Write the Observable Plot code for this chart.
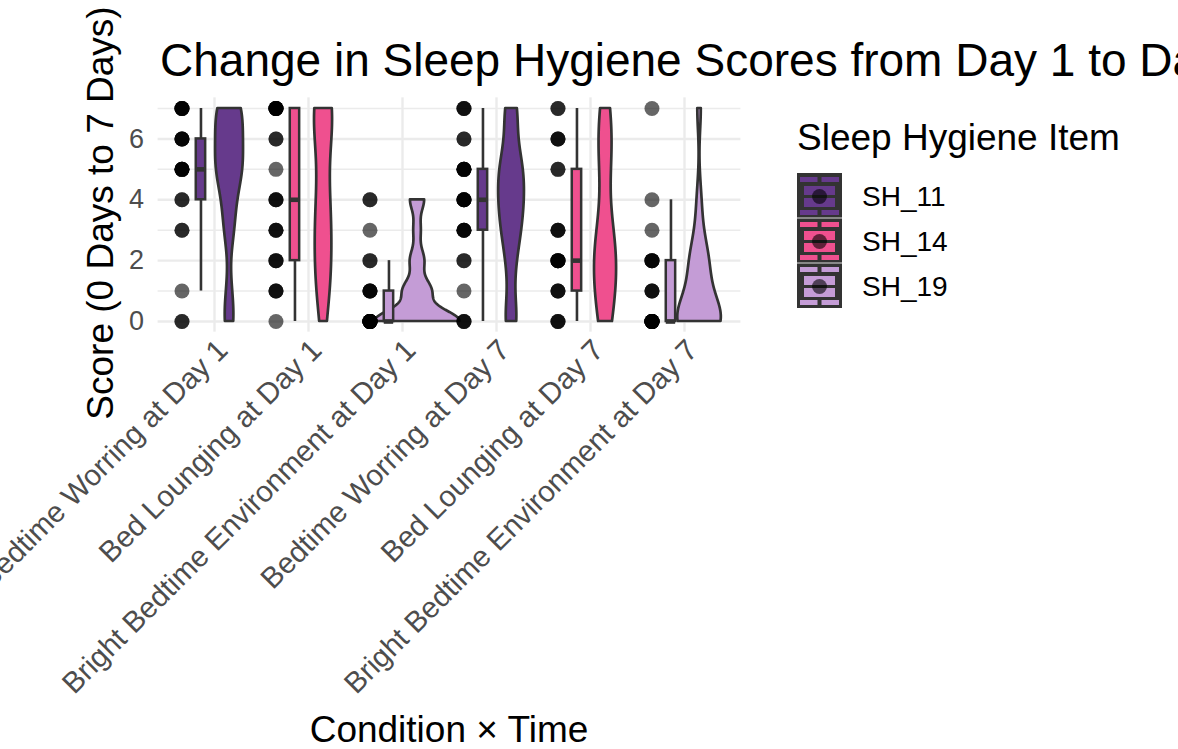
<!DOCTYPE html>
<html>
<head>
<meta charset="utf-8">
<script src="https://cdn.jsdelivr.net/npm/d3@7"></script>
<script src="https://cdn.jsdelivr.net/npm/@observablehq/plot@0.6"></script>
<style>
  html, body { margin: 0; padding: 0; background: #fff; overflow: hidden; }
  #chart svg { display: block; }
</style>
</head>
<body>
<div id="chart"></div>
<script>
// Conditions (item × time) shown along the x axis, in order
const conditions = [
  "Bedtime Worring at Day 1",
  "Bed Lounging at Day 1",
  "Bright Bedtime Environment at Day 1",
  "Bedtime Worring at Day 7",
  "Bed Lounging at Day 7",
  "Bright Bedtime Environment at Day 7"
];
const conditionItems = ["SH_11", "SH_14", "SH_19", "SH_11", "SH_14", "SH_19"];

// Legend items and their fills
const items = ["SH_11", "SH_14", "SH_19"];
const itemColors = ["#663a8c", "#ef508f", "#c49cd6"];

// Possible scores (days out of 7) and the number of respondents at each score
const scores = [0, 1, 2, 3, 4, 5, 6, 7];
const countsWorringDay1     = [2, 1, 0, 2, 2, 5, 4, 5];
const countsLoungingDay1    = [1, 3, 3, 3, 3, 1, 2, 7];
const countsBrightDay1      = [12, 4, 2, 1, 2, 0, 0, 0];
const countsWorringDay7     = [3, 1, 2, 4, 5, 5, 2, 3];
const countsLoungingDay7    = [3, 3, 5, 3, 0, 2, 3, 2];
const countsBrightDay7      = [11, 3, 4, 1, 1, 0, 0, 1];

const yTicks = [0, 2, 4, 6];
const yMinor = [1, 3, 5, 7];

const countsByCondition = [
  countsWorringDay1, countsLoungingDay1, countsBrightDay1,
  countsWorringDay7, countsLoungingDay7, countsBrightDay7
];

// Expand counts into individual observations
const obs = [];
countsByCondition.forEach((counts, ci) => {
  counts.forEach((c, si) => {
    for (let k = 0; k < c; k++) obs.push({ci, score: scores[si], item: conditionItems[ci]});
  });
});

// Offsets within each category band (in category units)
const dotOffset = -0.346;
const boxOffset = -0.144;
const boxHalf = 0.05;
const violinOffset = 0.16;
const violinWidth = 0.9;

// Boxplot statistics (Tukey whiskers)
const boxes = countsByCondition.map((_, ci) => {
  const v = obs.filter(d => d.ci === ci).map(d => d.score).sort(d3.ascending);
  const q1 = d3.quantileSorted(v, 0.25), med = d3.quantileSorted(v, 0.5), q3 = d3.quantileSorted(v, 0.75);
  const iqr = q3 - q1;
  const lo = d3.min(v.filter(x => x >= q1 - 1.5 * iqr));
  const hi = d3.max(v.filter(x => x <= q3 + 1.5 * iqr));
  return {ci, item: conditionItems[ci], q1, med, q3, lo, hi};
});

// Gaussian kernel density with Silverman's rule-of-thumb bandwidth, trimmed to the data range
function bandwidth(v) {
  const sd = d3.deviation(v);
  const iqr = d3.quantileSorted(v, 0.75) - d3.quantileSorted(v, 0.25);
  let lo = Math.min(sd, iqr / 1.34);
  if (!(lo > 0)) lo = sd || 1;
  return 0.9 * lo * Math.pow(v.length, -0.2);
}
const violinPts = [];
countsByCondition.forEach((_, ci) => {
  const v = obs.filter(d => d.ci === ci).map(d => d.score).sort(d3.ascending);
  const bw = bandwidth(v);
  const [mn, mx] = d3.extent(v);
  const n = 512;
  for (let k = 0; k < n; k++) {
    const y = mn + (mx - mn) * k / (n - 1);
    const dens = d3.sum(v, x => Math.exp(-0.5 * ((y - x) / bw) ** 2)) / (v.length * bw * Math.sqrt(2 * Math.PI));
    violinPts.push({ci, item: conditionItems[ci], y, dens});
  }
});
const maxDens = d3.max(violinPts, d => d.dens);
violinPts.forEach(d => {
  const hw = d.dens / maxDens * violinWidth / 2;
  d.x1 = d.ci + violinOffset - hw;
  d.x2 = d.ci + violinOffset + hw;
});

const W = 1178, H = 749;
const font = "'Liberation Sans', Arial, Helvetica, sans-serif";
const ink = "#333333";
const grid = "#ebebeb";

const plot = Plot.plot({
  width: W,
  height: H,
  marginLeft: 157.6,
  marginRight: 437.6,
  marginTop: 97.35,
  marginBottom: 417.35,
  style: {fontFamily: font, background: "#fff", overflow: "hidden"},
  x: {domain: [-0.6, 5.6], axis: null},
  y: {domain: [-0.35, 7.35], axis: null},
  color: {domain: items, range: itemColors},
  marks: [
    Plot.ruleY(yMinor, {y: d => d, stroke: grid, strokeWidth: 1.5}),
    Plot.ruleY(yTicks, {y: d => d, stroke: grid, strokeWidth: 2.4}),
    Plot.ruleX(d3.range(conditions.length), {x: d => d, stroke: grid, strokeWidth: 2.4}),
    // half-cloud: violins
    Plot.areaX(violinPts, {x1: "x1", x2: "x2", y: "y", z: "ci", fill: "item", stroke: ink, strokeWidth: 2.7, curve: "linear"}),
    // boxplots
    Plot.ruleX(boxes, {x: d => d.ci + boxOffset, y1: "lo", y2: "hi", stroke: ink, strokeWidth: 2.6}),
    Plot.rect(boxes, {x1: d => d.ci + boxOffset - boxHalf, x2: d => d.ci + boxOffset + boxHalf, y1: "q1", y2: "q3", fill: "item", stroke: ink, strokeWidth: 2.5}),
    Plot.ruleY(boxes, {y: "med", x1: d => d.ci + boxOffset - boxHalf, x2: d => d.ci + boxOffset + boxHalf, stroke: ink, strokeWidth: 4.6}),
    // rain: individual responses
    Plot.dot(obs, {x: d => d.ci + dotOffset, y: "score", r: 7.5, fill: "black", fillOpacity: 0.6, stroke: null}),
    // tick labels
    Plot.text(yTicks, {y: d => d, frameAnchor: "left", text: d => String(d), textAnchor: "end", dx: -14, fontSize: 27, fill: "#4d4d4d"}),
    Plot.text(conditions, {x: (d, i) => i, frameAnchor: "bottom", text: d => d, rotate: -45, textAnchor: "end", lineAnchor: "top", dy: 5, fontSize: 29.5, fill: "#4d4d4d"})
  ]
});

document.getElementById("chart").appendChild(plot);

// Titles and legend
const svg = d3.select(plot);
svg.append("text")
  .attr("x", 160).attr("y", 76)
  .attr("text-anchor", "start")
  .attr("font-size", 46).attr("font-family", font).attr("fill", "#000")
  .text("Change in Sleep Hygiene Scores from Day 1 to Day 7");
svg.append("text")
  .attr("transform", "translate(113,213) rotate(-90)")
  .attr("text-anchor", "middle")
  .attr("font-size", 37).attr("font-family", font).attr("fill", "#000")
  .text("Score (0 Days to 7 Days)");
svg.append("text")
  .attr("x", 449).attr("y", 742)
  .attr("text-anchor", "middle")
  .attr("font-size", 37).attr("font-family", font).attr("fill", "#000")
  .text("Condition × Time");

const lg = svg.append("g").attr("transform", "translate(797,0)");
lg.append("text").attr("x", 0).attr("y", 150)
  .attr("text-anchor", "start")
  .attr("font-size", 37).attr("font-family", font).attr("fill", "#000")
  .text("Sleep Hygiene Item");
items.forEach((it, i) => {
  const k = lg.append("g").attr("transform", `translate(0,${173 + i * 45})`);
  const c = itemColors[i];
  k.append("rect").attr("width", 45).attr("height", 45).attr("fill", ink);
  k.append("rect").attr("x", 3).attr("y", 4).attr("width", 17.5).attr("height", 5).attr("fill", c);
  k.append("rect").attr("x", 24.5).attr("y", 4).attr("width", 17.5).attr("height", 5).attr("fill", c);
  k.append("rect").attr("x", 7).attr("y", 13).attr("width", 31).attr("height", 21).attr("fill", c);
  k.append("rect").attr("x", 7).attr("y", 22).attr("width", 31).attr("height", 3).attr("fill", ink);
  k.append("rect").attr("x", 3).attr("y", 37).attr("width", 17.5).attr("height", 5).attr("fill", c);
  k.append("rect").attr("x", 24.5).attr("y", 37).attr("width", 17.5).attr("height", 5).attr("fill", c);
  k.append("circle").attr("cx", 22.5).attr("cy", 23.5).attr("r", 7.5).attr("fill", "black").attr("fill-opacity", 0.6);
  if (i > 0) k.append("rect").attr("x", 0).attr("y", -0.5).attr("width", 45).attr("height", 1).attr("fill", "#dddddd");
  lg.append("text").attr("x", 65).attr("y", 173 + i * 45 + 33)
    .attr("text-anchor", "start")
    .attr("font-size", 28).attr("font-family", font).attr("fill", "#000")
    .text(it);
});
</script>
</body>
</html>
